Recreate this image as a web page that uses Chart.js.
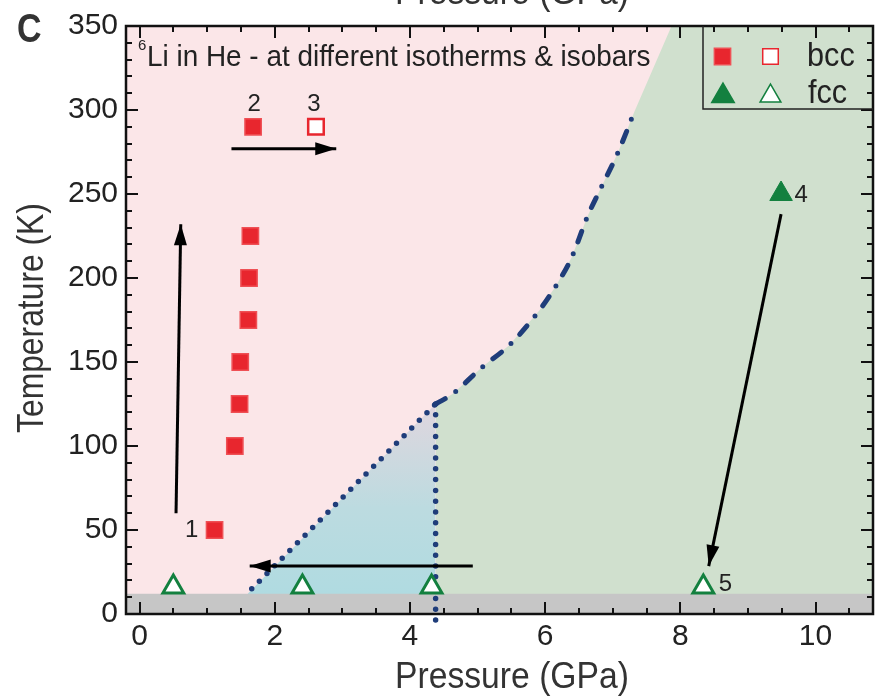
<!DOCTYPE html>
<html>
<head>
<meta charset="utf-8">
<script src="https://cdn.jsdelivr.net/npm/chart.js@4.4.1/dist/chart.umd.min.js"></script>
<style>
  html, body { margin: 0; padding: 0; background: #fff; }
  #phase { display: block; }
</style>
</head>
<body>
<canvas id="phase" width="892" height="697"></canvas>
<script>
const xTicks = [0, 2, 4, 6, 8, 10];
const yTicks = [0, 50, 100, 150, 200, 250, 300, 350];

// measured points (P in GPa, T in K)
const bccP = [1.11, 1.41, 1.48, 1.49, 1.61, 1.62, 1.64, 1.68];
const bccT = [50, 100, 125, 150, 175, 200, 225, 290];
const bccOpenP = [2.61];
const bccOpenT = [290];
const fccP = [9.49];
const fccT = [250];
const fccOpenP = [0.50, 2.41, 4.32, 8.34];
const fccOpenT = [16, 16, 16, 16];

// phase boundaries
const mixEdgeP = [1.66, 4.38];
const mixEdgeT = [15, 125];
const mixFillP = [1.60, 4.38];
const mixFillT = [12, 125];
const mixWallP = [4.38, 4.38];
const mixWallT = [125, -9];
const fccEdgeP = [4.38, 4.63, 5.07, 5.47, 5.92, 6.17, 6.39, 6.63, 6.83, 7.07, 7.32];
const fccEdgeT = [125, 131, 147, 160, 181, 196, 212, 237, 254, 274, 299];
const fccTopP = [7.87, 10.85];
const fccTopT = [350, 350];
const floorP = [-0.2, 10.85];
const floorT = [12, 12];

// paths taken between runs
const arrowP0 = [0.54, 1.36, 4.93, 9.49];
const arrowT0 = [60, 277, 28.5, 238];
const arrowP1 = [0.61, 2.91, 1.63, 8.42];
const arrowT1 = [232, 277, 28.5, 28.5];

// run numbers, tied to the points they belong to
const runLabels = ['1', '2', '3', '4', '5'];
const runP = [1.11, 1.68, 2.61, 9.49, 8.34];
const runT = [50, 290, 290, 250, 16];

const FONT = "'Liberation Sans', Arial, sans-serif";
const RED = '#e8262e';
const GREEN = '#13803f';
const NAVY = '#1f3d7a';

const pts = (xs, ys) => xs.map((x, i) => ({ x, y: ys[i] }));

const mixGradient = (c) => {
  const chart = c.chart;
  if (!chart.chartArea) return '#b8dbe0';
  const y = chart.scales.y;
  const g = chart.ctx.createLinearGradient(0, y.getPixelForValue(125), 0, y.getPixelForValue(12));
  g.addColorStop(0, '#e0d6de');
  g.addColorStop(0.55, '#bcdbe0');
  g.addColorStop(1, '#b0dbe1');
  return g;
};

const markers = (data, style, radius, bg, border, bw) => ({
  data, showLine: false, pointStyle: style, pointRadius: radius,
  pointBackgroundColor: bg, pointBorderColor: border, pointBorderWidth: bw, order: 1
});

const datasets = [
  { data: pts(fccEdgeP.concat(fccTopP), fccEdgeT.concat(fccTopT)), borderWidth: 0, pointRadius: 0,
    fill: 'origin', backgroundColor: '#d0e0ce', order: 10 },
  { data: pts(mixFillP, mixFillT), borderWidth: 0, pointRadius: 0, fill: 'origin',
    backgroundColor: mixGradient, order: 9 },
  { data: pts(floorP, floorT), borderWidth: 0, pointRadius: 0, fill: 'origin',
    backgroundColor: '#c6c6c6', order: 8 },
  { data: pts(mixEdgeP, mixEdgeT), borderColor: NAVY, borderWidth: 5.5, borderDash: [0, 10.8],
    borderCapStyle: 'round', pointRadius: 0, order: 5 },
  { data: pts(mixWallP, mixWallT), borderColor: NAVY, borderWidth: 5.5, borderDash: [0, 10.8],
    borderCapStyle: 'round', pointRadius: 0, clip: false, order: 5 },
  { data: pts(fccEdgeP, fccEdgeT), borderColor: NAVY, borderWidth: 5, borderDash: [11, 12.8, 0, 12.8],
    borderCapStyle: 'round', pointRadius: 0, cubicInterpolationMode: 'monotone', order: 5 },
];

arrowP0.forEach((p, i) => {
  datasets.push({ data: pts([p, arrowP1[i]], [arrowT0[i], arrowT1[i]]), borderColor: '#000',
    borderWidth: 3, pointRadius: 0, arrow: true, order: 4 });
});

datasets.push(markers(pts(bccP, bccT), 'rect', 11.5, RED, '#ef5055', 1.5));
datasets.push(markers(pts(bccOpenP, bccOpenT), 'rect', 11, '#fff', RED, 2.5));
datasets.push(markers(pts(fccP, fccT), 'triangle', 13, GREEN, GREEN, 1));
datasets.push(markers(pts(fccOpenP, fccOpenT), 'triangle', 12, '#fff', GREEN, 3));

// pink bcc field behind everything
const background = {
  id: 'background',
  beforeDatasetsDraw(chart) {
    const { ctx, chartArea: a } = chart;
    ctx.save();
    ctx.fillStyle = '#fbe6e8';
    ctx.fillRect(a.left, a.top, a.right - a.left, a.bottom - a.top);
    ctx.restore();
  }
};

const arrowHeads = {
  id: 'arrowHeads',
  afterDatasetsDraw(chart) {
    const ctx = chart.ctx;
    ctx.save();
    ctx.fillStyle = '#000';
    chart.data.datasets.forEach((ds, i) => {
      if (!ds.arrow) return;
      const [a, b] = chart.getDatasetMeta(i).data;
      const ang = Math.atan2(b.y - a.y, b.x - a.x);
      const len = 21, half = 6.5;
      ctx.beginPath();
      ctx.moveTo(b.x, b.y);
      ctx.lineTo(b.x - len * Math.cos(ang) + half * Math.sin(ang), b.y - len * Math.sin(ang) - half * Math.cos(ang));
      ctx.lineTo(b.x - len * Math.cos(ang) - half * Math.sin(ang), b.y - len * Math.sin(ang) + half * Math.cos(ang));
      ctx.closePath();
      ctx.fill();
    });
    ctx.restore();
  }
};

// box frame with inward ticks on all four sides
const frame = {
  id: 'frame',
  afterDatasetsDraw(chart) {
    const { ctx, chartArea: a, scales: { x, y } } = chart;
    ctx.save();
    ctx.strokeStyle = '#111';
    ctx.lineWidth = 2;
    ctx.beginPath();
    for (let v = 0; v <= x.max + 1e-9; v += 0.5) {
      const px = Math.round(x.getPixelForValue(v));
      const len = v % 2 === 0 ? 12 : 6;
      ctx.moveTo(px, a.bottom); ctx.lineTo(px, a.bottom - len);
      ctx.moveTo(px, a.top); ctx.lineTo(px, a.top + len);
    }
    for (let v = 10; v < y.max; v += 10) {
      const py = Math.round(y.getPixelForValue(v));
      const len = v % 50 === 0 ? 12 : 6;
      ctx.moveTo(a.left, py); ctx.lineTo(a.left + len, py);
      ctx.moveTo(a.right, py); ctx.lineTo(a.right - len, py);
    }
    ctx.stroke();
    ctx.lineWidth = 2.5;
    ctx.strokeRect(a.left, a.top, a.right - a.left, a.bottom - a.top);
    ctx.restore();
  }
};

// narrow lettering, like a condensed face
const narrowText = (ctx, text, px, py, sx) => {
  ctx.save();
  ctx.translate(px, py);
  ctx.scale(sx, 1);
  ctx.fillText(text, 0, 0);
  ctx.restore();
};

const texts = {
  id: 'texts',
  afterDraw(chart) {
    const { ctx, chartArea: a, scales: { x, y } } = chart;
    ctx.save();
    ctx.fillStyle = '#222';
    ctx.textBaseline = 'middle';
    ctx.textAlign = 'center';

    // run numbers next to their points
    const offs = [[-23, 0], [1, -22], [-2, -22], [20, 1], [22, -3]];
    ctx.font = '24px ' + FONT;
    runLabels.forEach((t, i) => {
      ctx.fillText(t, x.getPixelForValue(runP[i]) + offs[i][0], y.getPixelForValue(runT[i]) + offs[i][1]);
    });

    // panel caption
    ctx.textBaseline = 'alphabetic';
    ctx.textAlign = 'left';
    ctx.font = '15px ' + FONT;
    ctx.fillText('6', a.left + 12, a.top + 24);
    ctx.font = '30px ' + FONT;
    narrowText(ctx, 'Li in He - at different isotherms & isobars', a.left + 21, a.top + 40, 0.93);

    // axis titles
    ctx.fillStyle = '#333';
    ctx.font = '37px ' + FONT;
    ctx.textAlign = 'center';
    narrowText(ctx, 'Pressure (GPa)', 512, 688, 0.91);
    narrowText(ctx, 'Pressure (GPa)', 512, 4, 0.91);
    ctx.save();
    ctx.translate(43, 318);
    ctx.rotate(-Math.PI / 2);
    narrowText(ctx, 'Temperature (K)', 0, 0, 0.86);
    ctx.restore();

    ctx.fillStyle = '#333';
    ctx.textAlign = 'left';
    ctx.font = 'bold 40px ' + FONT;
    narrowText(ctx, 'C', 17, 42, 0.85);

    // legend box in the upper right corner
    ctx.strokeStyle = '#222';
    ctx.lineWidth = 1.5;
    ctx.beginPath();
    ctx.moveTo(703, a.top);
    ctx.lineTo(703, 109);
    ctx.lineTo(a.right, 109);
    ctx.stroke();
    const mark = (style, r, bg, border, bw, px, py) => {
      ctx.fillStyle = bg;
      ctx.strokeStyle = border;
      Chart.helpers.drawPoint(ctx, { pointStyle: style, radius: r, borderWidth: bw, rotation: 0 }, px, py);
    };
    mark('rect', 11.5, RED, '#ef5055', 1.5, 722.5, 56.5);
    mark('rect', 11, '#fff', RED, 2.5, 770.5, 56.5);
    mark('triangle', 13, GREEN, GREEN, 1, 723, 96);
    mark('triangle', 12, '#fff', GREEN, 3, 770.5, 96);
    ctx.fillStyle = '#222';
    ctx.font = '33px ' + FONT;
    narrowText(ctx, 'bcc', 807, 66, 0.93);
    narrowText(ctx, 'fcc', 808, 103, 0.93);
    ctx.restore();
  }
};

new Chart(document.getElementById('phase'), {
  type: 'line',
  data: { datasets },
  options: {
    responsive: false,
    animation: false,
    events: [],
    layout: { padding: { left: 0, right: 19, top: 24, bottom: 0 } },
    plugins: { legend: { display: false }, tooltip: { enabled: false } },
    scales: {
      x: {
        type: 'linear', min: -0.2, max: 10.85,
        afterFit: (s) => { s.height = 83; },
        afterBuildTicks: (s) => { s.ticks = xTicks.map(v => ({ value: v })); },
        grid: { display: false, drawTicks: false },
        border: { display: false },
        ticks: { font: { family: FONT, size: 30 }, color: '#222', padding: 5 }
      },
      y: {
        type: 'linear', min: 0, max: 350,
        afterFit: (s) => { s.width = 126; },
        afterBuildTicks: (s) => { s.ticks = yTicks.map(v => ({ value: v })); },
        grid: { display: false, drawTicks: false },
        border: { display: false },
        ticks: { font: { family: FONT, size: 30 }, color: '#222', padding: 8 }
      }
    }
  },
  plugins: [background, arrowHeads, frame, texts]
});
</script>
</body>
</html>
